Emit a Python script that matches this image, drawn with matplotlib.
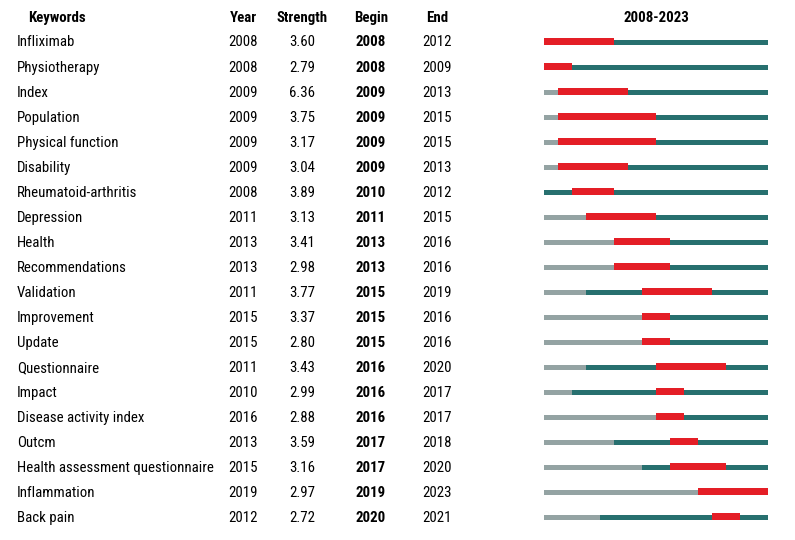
import matplotlib
matplotlib.use("Agg")
import matplotlib.pyplot as plt
from matplotlib import font_manager as fm

keywords = ["Infliximab", "Physiotherapy", "Index", "Population", "Physical function",
            "Disability", "Rheumatoid-arthritis", "Depression", "Health", "Recommendations",
            "Validation", "Improvement", "Update", "Questionnaire", "Impact",
            "Disease activity index", "Outcm", "Health assessment questionnaire",
            "Inflammation", "Back pain"]
years = [2008, 2008, 2009, 2009, 2009, 2009, 2008, 2011, 2013, 2013,
         2011, 2015, 2015, 2011, 2010, 2016, 2013, 2015, 2019, 2012]
strength = [3.60, 2.79, 6.36, 3.75, 3.17, 3.04, 3.89, 3.13, 3.41, 2.98,
            3.77, 3.37, 2.80, 3.43, 2.99, 2.88, 3.59, 3.16, 2.97, 2.72]
begin = [2008, 2008, 2009, 2009, 2009, 2009, 2010, 2011, 2013, 2013,
         2015, 2015, 2015, 2016, 2016, 2016, 2017, 2017, 2019, 2020]
end = [2012, 2009, 2013, 2015, 2015, 2013, 2012, 2015, 2016, 2016,
       2019, 2016, 2016, 2020, 2017, 2017, 2018, 2020, 2023, 2021]
start_year, end_year = 2008, 2023

names = {f.name for f in fm.fontManager.ttflist}
family, fs = "Liberation Sans", 9.0
for cand in ["Roboto Condensed", "Open Sans Condensed", "Liberation Sans Narrow", "Arial Narrow"]:
    if cand in names:
        family, fs = cand, 10.7
        break
plt.rcParams["font.family"] = [family, "DejaVu Sans"]

RED = "#E41E26"
TEAL = "#27706F"
GRAY = "#94A3A3"

W, H = 795, 540
fig = plt.figure(figsize=(W / 100, H / 100), dpi=100)
row0, dy = 42.5, 25.05
ytop = (0 - row0) / dy
ybot = (H - row0) / dy

tax = fig.add_axes([0, 0, 1, 1])
tax.set_xlim(0, W)
tax.set_ylim(ybot, ytop)
tax.axis("off")

hy = (18 - row0) / dy
tax.text(57, hy, "Keywords", ha="center", va="center", fontsize=fs, fontweight="bold")
tax.text(243, hy, "Year", ha="center", va="center", fontsize=fs, fontweight="bold")
tax.text(302, hy, "Strength", ha="center", va="center", fontsize=fs, fontweight="bold")
tax.text(371, hy, "Begin", ha="center", va="center", fontsize=fs, fontweight="bold")
tax.text(437, hy, "End", ha="center", va="center", fontsize=fs, fontweight="bold")
tax.text(656, hy, f"{start_year}-{end_year}", ha="center", va="center",
         fontsize=fs, fontweight="bold")

for i, kw in enumerate(keywords):
    tax.text(17, i, kw, ha="left", va="center", fontsize=fs)
    tax.text(243, i, str(years[i]), ha="center", va="center", fontsize=fs)
    tax.text(302, i, f"{strength[i]:.2f}", ha="center", va="center", fontsize=fs)
    tax.text(371, i, str(begin[i]), ha="center", va="center", fontsize=fs, fontweight="bold")
    tax.text(437, i, str(end[i]), ha="center", va="center", fontsize=fs)

# bar axes: 2008 at x=544 px, 14 px per year
x0, pxy = 544, 14
nyrs = end_year - start_year + 1
bax = fig.add_axes([x0 / W, 0, nyrs * pxy / W, 1])
bax.set_xlim(start_year, end_year + 1)
bax.set_ylim(ybot, ytop)
bax.axis("off")

th = 5 / dy
rh = 7 / dy
off = 2.0 / dy
for i in range(len(keywords)):
    base = i + off
    if years[i] > start_year:
        bax.barh(base - th, years[i] - start_year, left=start_year, height=th, align="edge",
                 color=GRAY, linewidth=0)
    bax.barh(base - th, end_year + 1 - years[i], left=years[i], height=th, align="edge",
             color=TEAL, linewidth=0)
    bax.barh(base - rh, end[i] + 1 - begin[i], left=begin[i], height=rh, align="edge",
             color=RED, linewidth=0)

fig.savefig("out.png", dpi=100)
